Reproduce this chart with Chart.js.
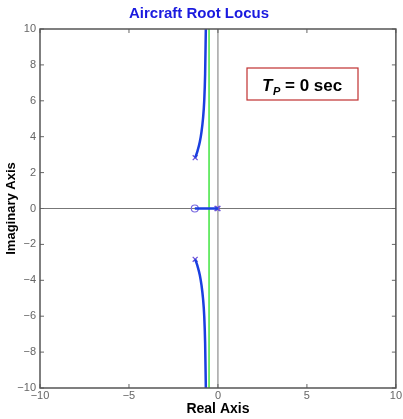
<!DOCTYPE html>
<html><head><meta charset="utf-8">
<script src="https://cdn.jsdelivr.net/npm/chart.js@4"></script>
<style>html,body{margin:0;padding:0;background:#fff}#wrap{width:403px;height:419px}</style>
</head><body><div id="wrap"><canvas id="c" width="403" height="419"></canvas></div>
<script>
const xTicks = [-10, -5, 0, 5, 10];
const yTicks = [-10, -8, -6, -4, -2, 0, 2, 4, 6, 8, 10];
const branchX = [-1.28, -1.15, -1.02, -0.92, -0.84, -0.77, -0.72, -0.68];
const branchY = [2.83, 3.2, 3.7, 4.3, 5.0, 6.0, 7.5, 10];
const axisSegX = [-1.3, 0];
const polesX = [-1.28, -1.28, 0, -0.05];
const polesY = [2.83, -2.83, 0, 0];
const zerosX = [-1.3];
const zerosY = [0];
const dampLineX = -0.5;

const upper = branchX.map((x, i) => ({x, y: branchY[i]}));
const lower = branchX.map((x, i) => ({x, y: -branchY[i]}));
const seg = axisSegX.map(x => ({x, y: 0}));

const boxPlugin = {
  id: 'frame',
  beforeDatasetsDraw(chart) {
    const {ctx, chartArea: a, scales: {x, y}} = chart;
    ctx.save();
    ctx.lineWidth = 1;
    ctx.strokeStyle = '#777';
    ctx.beginPath();
    ctx.moveTo(a.left, y.getPixelForValue(0)); ctx.lineTo(a.right, y.getPixelForValue(0));
    ctx.moveTo(x.getPixelForValue(0), a.top); ctx.lineTo(x.getPixelForValue(0), a.bottom);
    ctx.stroke();
    ctx.strokeStyle = '#22e022';
    ctx.lineWidth = 1.3;
    ctx.beginPath();
    ctx.moveTo(x.getPixelForValue(dampLineX), a.top); ctx.lineTo(x.getPixelForValue(dampLineX), a.bottom);
    ctx.stroke();
    ctx.strokeStyle = '#666';
    ctx.lineWidth = 1;
    ctx.beginPath();
    xTicks.forEach(v => { const p = x.getPixelForValue(v); ctx.moveTo(p, a.top); ctx.lineTo(p, a.top + 4); ctx.moveTo(p, a.bottom); ctx.lineTo(p, a.bottom - 4); });
    yTicks.forEach(v => { const p = y.getPixelForValue(v); ctx.moveTo(a.left, p); ctx.lineTo(a.left + 4, p); ctx.moveTo(a.right, p); ctx.lineTo(a.right - 4, p); });
    ctx.stroke();
    ctx.restore();
  },
  afterDraw(chart) {
    const {ctx, chartArea: a} = chart;
    ctx.save();
    ctx.strokeStyle = '#555';
    ctx.lineWidth = 1.5;
    ctx.strokeRect(a.left, a.top, a.right - a.left, a.bottom - a.top);
    ctx.strokeStyle = '#c03030';
    ctx.lineWidth = 1.2;
    ctx.fillStyle = '#fff';
    ctx.fillRect(247, 68, 111, 32);
    ctx.strokeRect(247, 68, 111, 32);
    ctx.fillStyle = '#000';
    ctx.textBaseline = 'alphabetic';
    ctx.font = 'italic bold 17px "Liberation Sans", Arial, sans-serif';
    ctx.fillText('T', 262, 91);
    ctx.font = 'italic bold 11px "Liberation Sans", Arial, sans-serif';
    ctx.fillText('P', 273, 95);
    ctx.font = 'bold 17px "Liberation Sans", Arial, sans-serif';
    ctx.fillText('= 0 sec', 285, 91);
    ctx.restore();
  }
};

new Chart(document.getElementById('c'), {
  type: 'scatter',
  data: {
    datasets: [
      {data: upper, showLine: true, borderColor: '#1a3fe0', borderWidth: 2.5, pointRadius: 0, cubicInterpolationMode: 'monotone'},
      {data: lower, showLine: true, borderColor: '#1a3fe0', borderWidth: 2.5, pointRadius: 0, cubicInterpolationMode: 'monotone'},
      {data: seg, showLine: true, borderColor: '#1a3fe0', borderWidth: 2.5, pointRadius: 0},
      {data: polesX.map((x, i) => ({x, y: polesY[i]})), pointStyle: 'crossRot', pointRadius: 3.5, borderColor: '#6a4fd8', borderWidth: 1.2, backgroundColor: '#6a4fd8'},
      {data: zerosX.map((x, i) => ({x, y: zerosY[i]})), pointStyle: 'circle', pointRadius: 3.5, borderColor: '#7a6ae0', borderWidth: 1.2, backgroundColor: 'rgba(0,0,0,0)'}
    ]
  },
  options: {
    responsive: false,
    animation: false,
    layout: {padding: {top: 0, right: 5, left: 0, bottom: 0}},
    plugins: {
      legend: {display: false},
      tooltip: {enabled: false},
      title: {display: true, text: 'Aircraft Root Locus', color: '#1a1adf', font: {family: 'Liberation Sans', size: 15, weight: 'bold'}, padding: {top: 5, bottom: 6}}
    },
    scales: {
      x: {
        type: 'linear', min: -10, max: 10,
        afterBuildTicks: s => { s.ticks = xTicks.map(v => ({value: v})); },
        afterFit: s => { s.height = 31; },
        ticks: {color: '#666', font: {family: 'Liberation Sans', size: 11}, padding: 1, callback: v => v < 0 ? '\u2212' + Math.abs(v) : String(v), maxRotation: 0},
        grid: {display: false, drawTicks: false, tickLength: 0}, border: {display: false},
        title: {display: true, text: 'Real Axis', color: '#000', font: {family: 'Liberation Sans', size: 14, weight: 'bold'}, padding: {top: 0, bottom: 1}}
      },
      y: {
        type: 'linear', min: -10, max: 10,
        afterBuildTicks: s => { s.ticks = yTicks.map(v => ({value: v})); },
        afterFit: s => { s.width = 40; },
        ticks: {color: '#666', font: {family: 'Liberation Sans', size: 11}, padding: 4, callback: v => v < 0 ? '\u2212' + Math.abs(v) : String(v)},
        grid: {display: false, drawTicks: false, tickLength: 0}, border: {display: false},
        title: {display: true, text: 'Imaginary Axis', color: '#000', font: {family: 'Liberation Sans', size: 13, weight: 'bold'}, padding: {top: 4, bottom: 0}}
      }
    }
  },
  plugins: [boxPlugin]
});
</script>
</body></html>
